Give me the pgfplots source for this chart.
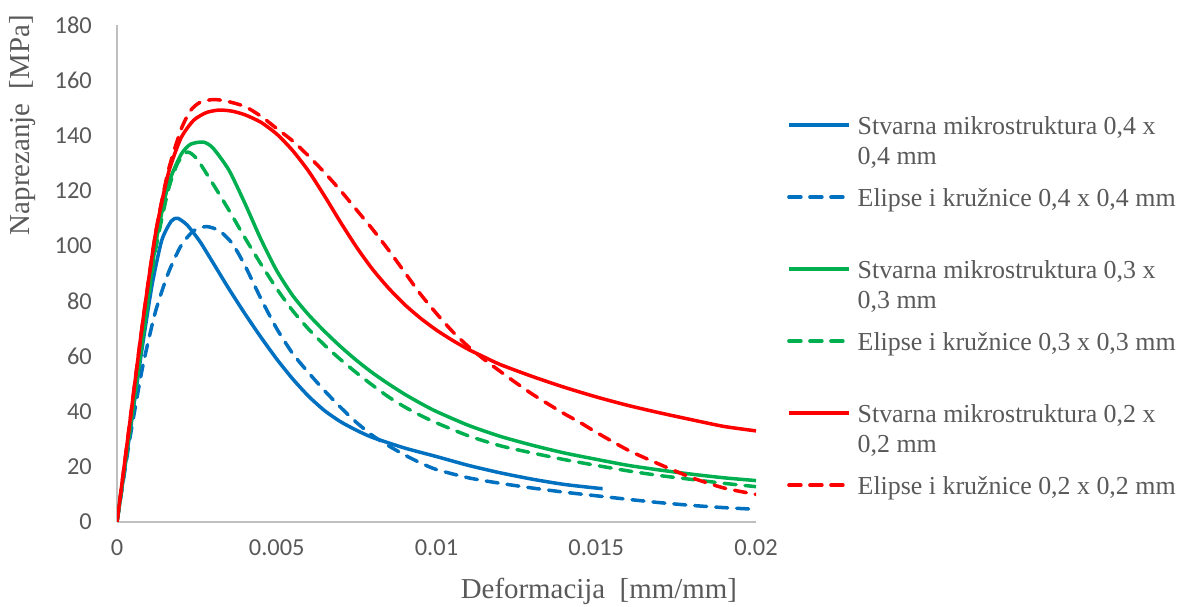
\documentclass[border=0pt]{standalone}
\usepackage{fontspec}
\setmainfont{Liberation Serif}
\newfontfamily\calibri{Carlito}
\usepackage{pgfplots}
\pgfplotsset{compat=1.18}
\definecolor{cblue}{HTML}{0070C0}
\definecolor{cgreen}{HTML}{00B050}
\definecolor{cred}{HTML}{FF0000}
\definecolor{txt}{HTML}{595959}
\definecolor{axl}{HTML}{BFBFBF}
\newcommand{\twol}[2]{\vtop{\baselineskip=30bp\hbox{#1}\hbox{#2}}}
\pgfplotsset{
 tallimg/.style={legend image code/.code={\path[draw=none,fill=none] (0bp,-44bp) -- (0bp,28bp); \draw[##1] (0bp,9bp) -- (60bp,9bp);}},
 shortimg/.style={legend image code/.code={\path[draw=none,fill=none] (0bp,-14bp) -- (0bp,28bp); \draw[##1] (0bp,9bp) -- (60bp,9bp);}},
}
\begin{document}
\begin{tikzpicture}
\path (0,0) rectangle (1188bp,607bp);
\begin{axis}[
 at={(117bp,85bp)}, anchor=south west,
 scale only axis, width=639bp, height=497bp,
 xmin=0, xmax=0.02, ymin=0, ymax=180,
 axis x line*=bottom, axis y line*=left,
 axis line style={draw=axl, line width=1.2bp, -},
 major tick length=0pt,
 xtick={0,0.005,0.01,0.015,0.02},
 xticklabels={0,0.005,0.01,0.015,0.02},
 scaled x ticks=false,
 ytick={0,20,...,180},
 tick label style={font=\fontsize{24.5}{29}\calibri, text=txt},
 /pgf/number format/assume math mode=true,
 xticklabel style={inner sep=0pt, anchor=north, yshift=-17bp},
 yticklabel style={inner sep=0pt, anchor=east, xshift=-25bp},
 xlabel={Deformacija\ \ [mm/mm]},
 ylabel={Naprezanje\ \ [MPa]},
 label style={font=\fontsize{29}{34}\selectfont, text=txt},
 xlabel style={at={(axis description cs:0.9703,0)}, anchor=base east, yshift=-76bp, inner sep=0pt},
 ylabel style={at={(axis description cs:-0.1377,1.0201)}, anchor=base east, inner sep=0pt},
 legend style={at={(axis description cs:1.0485,0.8370)}, anchor=north west, draw=none, fill=none,
   inner sep=0pt, row sep=0bp, column sep=5bp, font=\fontsize{26}{30}\selectfont, text=txt,
   cells={anchor=base west, inner sep=0pt}},
 every axis plot/.append style={line width=3.5bp, line join=round},
]
\addplot[cblue, solid, smooth, tension=0.4, tallimg] coordinates {
(0,0) (0.0004,32) (0.0008,64) (0.0011,86) (0.0014,102) (0.0017,109) (0.0019,110) (0.0022,107.5)
(0.0026,101.5) (0.003,94) (0.0035,84.5) (0.004,75.5) (0.0045,67) (0.005,59) (0.0055,51.8) (0.006,45.5)
(0.0065,40.3) (0.007,36.3) (0.0075,33.2) (0.008,30.6) (0.009,26.8) (0.01,23.7) (0.011,20.5) (0.012,17.8)
(0.013,15.5) (0.014,13.6) (0.015,12.3) (0.0152,12.1)};
\addlegendentry{\twol{Stvarna mikrostruktura 0,4 x}{0,4 mm}}
\addplot[cblue, dash pattern=on 12bp off 9bp, line cap=round, smooth, tension=0.4, tallimg] coordinates {
(0,0) (0.0004,30) (0.0008,56) (0.0012,76) (0.0016,90) (0.002,100) (0.0024,105.5) (0.0028,107)
(0.0032,105.5) (0.0036,101) (0.004,93) (0.0045,81) (0.005,70) (0.0055,61) (0.006,54) (0.0065,47.5)
(0.007,41.5) (0.0075,36) (0.008,31.3) (0.0085,27.6) (0.009,24.3) (0.0095,21.4) (0.01,19) (0.011,16)
(0.012,14) (0.013,12.3) (0.014,10.8) (0.015,9.5) (0.016,8.2) (0.017,7) (0.018,6) (0.019,5.2) (0.02,4.6)};
\addlegendentry{Elipse i kružnice 0,4 x 0,4 mm}
\addplot[cgreen, solid, smooth, tension=0.4, tallimg] coordinates {
(0,0) (0.0004,33) (0.0008,66) (0.0012,100) (0.0016,122) (0.002,133) (0.0023,136.8) (0.0027,137.6)
(0.003,135.5) (0.0035,127.5) (0.004,115.5) (0.0045,102.5) (0.005,91) (0.0055,82) (0.006,75) (0.0065,69)
(0.007,63.5) (0.0075,58.5) (0.008,54) (0.0085,50) (0.009,46.3) (0.0095,43) (0.01,40)
(0.011,35) (0.012,31) (0.013,27.8) (0.014,25) (0.015,22.7) (0.016,20.5) (0.017,18.8) (0.018,17.3)
(0.019,16) (0.02,15)};
\addlegendentry{\twol{Stvarna mikrostruktura 0,3 x}{0,3 mm}}
\addplot[cgreen, dash pattern=on 12bp off 9bp, line cap=round, smooth, tension=0.4, tallimg] coordinates {
(0,0) (0.0004,33) (0.0008,66) (0.0012,98) (0.0016,120) (0.0019,130) (0.0022,134) (0.0025,131.5)
(0.003,122.5) (0.0035,113) (0.004,103) (0.0045,93.5) (0.005,84.5) (0.0055,76.5) (0.006,69.8) (0.0065,64)
(0.007,58.8) (0.0075,54) (0.008,49.5) (0.0085,45.3) (0.009,41.7) (0.0095,38.6) (0.01,35.9) (0.011,31.2)
(0.012,27.6) (0.013,25) (0.014,22.6) (0.015,20.5) (0.016,18.5) (0.017,16.8)
(0.018,15.4) (0.019,14) (0.02,12.8)};
\addlegendentry{Elipse i kružnice 0,3 x 0,3 mm}
\addplot[cred, solid, smooth, tension=0.4, tallimg] coordinates {
(0,0) (0.0004,36) (0.0008,72) (0.0012,104) (0.0016,126) (0.002,139) (0.0024,145.5) (0.0028,148.3)
(0.0032,149.2) (0.0036,148.8) (0.004,147.5) (0.0045,144.8) (0.005,140.5) (0.0055,134.5) (0.006,127)
(0.0065,118) (0.007,108.5) (0.0075,99.5) (0.008,91.5) (0.0085,84.7) (0.009,78.8) (0.0095,73.8) (0.01,69.5)
(0.0105,65.8) (0.011,62.5) (0.0115,59.7) (0.012,57) (0.013,52.7) (0.014,48.8) (0.015,45.3)
(0.016,42.2) (0.017,39.5) (0.018,37) (0.019,34.6) (0.02,33)};
\addlegendentry{\twol{Stvarna mikrostruktura 0,2 x}{0,2 mm}}
\addplot[cred, dash pattern=on 12bp off 9bp, line cap=round, smooth, tension=0.4, shortimg] coordinates {
(0,0) (0.0004,36) (0.0008,72) (0.0012,104) (0.0016,127) (0.002,142) (0.0023,149) (0.0026,152)
(0.003,153) (0.0034,152.5) (0.004,150.5) (0.0045,147) (0.005,142.5) (0.0055,138) (0.006,132.5)
(0.0065,126.5) (0.007,120) (0.0075,113) (0.008,106) (0.0085,98.5) (0.009,90.5) (0.0095,82.5)
(0.01,75.5) (0.0105,69) (0.011,63.5) (0.0115,58.8) (0.012,54.5) (0.0125,50.3) (0.013,46.3) (0.0135,42.7)
(0.014,39.2) (0.0145,36) (0.015,32.5) (0.016,26) (0.017,20.8) (0.018,16) (0.019,12.3) (0.02,10)};
\addlegendentry{Elipse i kružnice 0,2 x 0,2 mm}
\end{axis}
\end{tikzpicture}
\end{document}
